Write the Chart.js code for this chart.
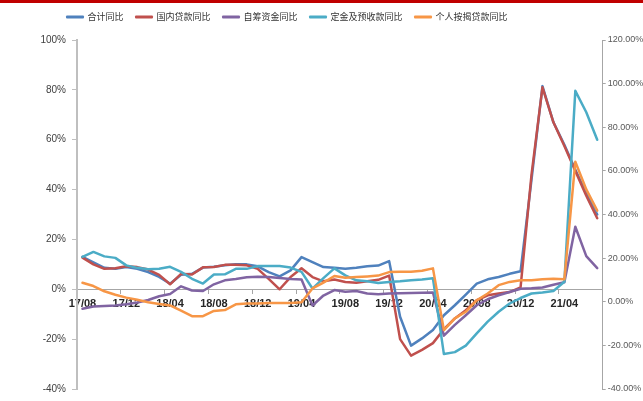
<!DOCTYPE html>
<html><head><meta charset="utf-8">
<script src="https://cdn.jsdelivr.net/npm/chart.js@4.4.1/dist/chart.umd.min.js"></script>
<style>
html,body{margin:0;padding:0;background:#fff;}
#wrap{position:relative;width:643px;height:401px;}
#bar{position:absolute;left:0;top:0;width:643px;height:3px;background:#c00000;}
canvas{display:block;}
</style></head>
<body><div id="wrap"><canvas id="c" width="643" height="401" style="width:643px;height:401px"></canvas><div id="bar"></div></div>
<script>
const months = ['17/08','17/09','17/10','17/11','17/12','18/01','18/02','18/03','18/04','18/05','18/06','18/07',
  '18/08','18/09','18/10','18/11','18/12','19/01','19/02','19/03','19/04','19/05','19/06','19/07',
  '19/08','19/09','19/10','19/11','19/12','20/01','20/02','20/03','20/04','20/05','20/06','20/07',
  '20/08','20/09','20/10','20/11','20/12','21/01','21/02','21/03','21/04','21/05','21/06','21/07'];

const totalYoY = [13.0,10.8,8.6,8.2,8.9,8.2,6.9,5.0,2.2,5.8,6.2,8.7,
  9.0,9.6,10.0,10.0,9.2,6.9,5.2,7.6,12.9,10.9,8.9,8.6,
  8.2,8.6,9.2,9.5,11.3,-11.0,-22.6,-19.7,-16.3,-10.4,-6.4,-2.1,
  2.3,4.0,4.9,6.2,7.2,44.0,81.5,67.0,58.0,48.0,38.5,30.0];

const domesticLoanYoY = [12.7,10.0,8.2,8.4,9.2,8.9,7.9,5.8,2.0,6.2,5.9,8.8,
  8.9,9.8,9.8,9.6,8.2,4.2,0.0,4.9,8.4,4.9,3.2,3.9,
  2.9,2.6,3.2,3.8,5.5,-20.0,-26.6,-24.3,-21.6,-16.0,-11.7,-8.4,
  -4.4,-2.4,-1.7,-1.1,0.8,46.0,81.0,67.0,57.5,47.5,37.5,28.5];

const selfRaisedYoY = [-7.8,-6.9,-6.7,-6.5,-6.0,-5.3,-4.3,-2.8,-1.9,1.2,-0.5,-0.7,
  2.0,3.6,4.1,4.8,5.0,4.9,4.5,4.1,3.9,-6.5,-2.5,-0.3,
  -1.0,-0.7,-1.7,-2.0,-1.7,-1.6,-1.5,-1.4,-1.3,-18.6,-14.3,-10.4,
  -6.4,-4.0,-2.4,-1.1,0.2,0.4,0.7,1.8,2.8,25.1,13.3,8.5];

const depositYoY = [13.0,15.0,13.2,12.6,9.6,8.6,8.0,8.2,9.0,7.0,4.2,2.3,
  5.9,6.0,8.2,8.2,9.3,9.3,9.3,8.7,7.0,0.3,4.5,8.4,
  5.6,3.6,3.2,2.5,2.9,3.2,3.6,3.9,4.4,-26.0,-25.2,-22.6,
  -17.7,-13.0,-9.0,-5.7,-3.5,-1.7,-1.3,-0.7,3.0,79.6,71.0,60.0];

// right axis
const mortgageYoY = [8.7,7.2,4.8,3.2,1.9,0.9,-0.2,-1.0,-1.7,-4.1,-6.6,-6.6,
  -4.2,-3.8,-1.2,-0.8,-0.8,-0.6,-0.6,-0.6,-0.2,6.1,8.8,11.8,
  11.0,11.3,11.6,12.0,13.6,13.8,13.8,14.2,15.3,-13.0,-7.6,-4.6,
  0.7,3.8,7.6,9.1,9.9,9.9,10.3,10.6,10.3,64.2,51.5,41.8];

const seriesNames = ['合计同比','国内贷款同比','自筹资金同比','定金及预收款同比','个人按揭贷款同比'];
const leftTicks = {min:-40, max:100, step:20};
const rightTicks = {min:-40, max:120, step:20};

const colors = ['#4F81BD','#C0504D','#8064A2','#4BACC6','#F79646'];
const seriesData = [totalYoY, domesticLoanYoY, selfRaisedYoY, depositYoY, mortgageYoY];
const axes = ['y','y','y','y','y1'];

const datasets = seriesData.map((d, i) => ({
  label: seriesNames[i],
  data: d,
  yAxisID: axes[i],
  borderColor: colors[i],
  backgroundColor: colors[i],
  borderWidth: 2.5,
  pointRadius: 0,
  tension: 0,
  borderJoinStyle: 'round',
  borderCapStyle: 'round',
  order: 4 - i
}));

const legendSpacer = {
  id: 'legendSpacer',
  afterInit(chart) {
    const lg = chart.legend;
    if (!lg) return;
    const origFit = lg.fit;
    lg.fit = function() { origFit.call(this); this.height += 8.5; };
    const origDraw = lg.draw;
    lg.draw = function() {
      const ctx = this.ctx;
      ctx.save();
      ctx.translate(54.5, 0);
      origDraw.call(this);
      ctx.restore();
    };
  }
};

new Chart(document.getElementById('c'), {
  type: 'line',
  data: { labels: months, datasets },
  plugins: [legendSpacer],
  options: {
    responsive: false,
    animation: false,
    layout: { padding: { left: 0, right: 0, top: 0, bottom: 9 } },
    plugins: {
      tooltip: { enabled: false },
      legend: {
        position: 'top',
        align: 'start',
        labels: {
          boxWidth: 16,
          boxHeight: 1,
          padding: 12.5,
          color: '#333',
          font: { family: '"Noto Sans CJK SC", sans-serif', size: 9 },
          sort: (a, b) => a.datasetIndex - b.datasetIndex,
          generateLabels(chart) {
            const items = Chart.defaults.plugins.legend.labels.generateLabels(chart);
            items.forEach(it => { it.lineWidth = 2; });
            return items;
          }
        }
      }
    },
    scales: {
      x: {
        type: 'category',
        position: { y: 0 },
        offset: true,
        grid: {
          display: true, drawOnChartArea: false, drawTicks: true, tickLength: 4, offset: true,
          color: ctx => (ctx.index % 4 === 0 ? '#a6a6a6' : 'rgba(0,0,0,0)')
        },
        border: { display: true, color: '#a6a6a6', width: 1 },
        ticks: {
          autoSkip: false, maxRotation: 0, minRotation: 0, padding: 4,
          color: '#262626',
          font: { family: '"Liberation Sans", Arial, sans-serif', size: 11, weight: 'bold' },
          callback: (v, i) => (i % 4 === 0 ? months[i] : '')
        }
      },
      y: {
        position: 'left',
        min: leftTicks.min, max: leftTicks.max,
        ticks: {
          stepSize: leftTicks.step, padding: 6, color: '#404040',
          font: { family: '"Liberation Sans", Arial, sans-serif', size: 10 },
          callback: v => v + '%'
        },
        grid: { drawOnChartArea: false, tickLength: 5, color: '#bfbfbf' },
        border: { display: true, color: '#bfbfbf', width: 2 },
        afterFit: s => { s.width = 77; }
      },
      y1: {
        position: 'right',
        min: rightTicks.min, max: rightTicks.max,
        ticks: {
          stepSize: rightTicks.step, padding: 2, color: '#595959',
          font: { family: '"Liberation Sans", Arial, sans-serif', size: 9 },
          callback: v => Number(v).toFixed(2) + '%'
        },
        grid: { drawOnChartArea: false, tickLength: 3, color: '#a6a6a6' },
        border: { display: true, color: '#a6a6a6', width: 1 },
        afterFit: s => { s.width = 40.3; }
      }
    }
  }
});
</script>
</body></html>
